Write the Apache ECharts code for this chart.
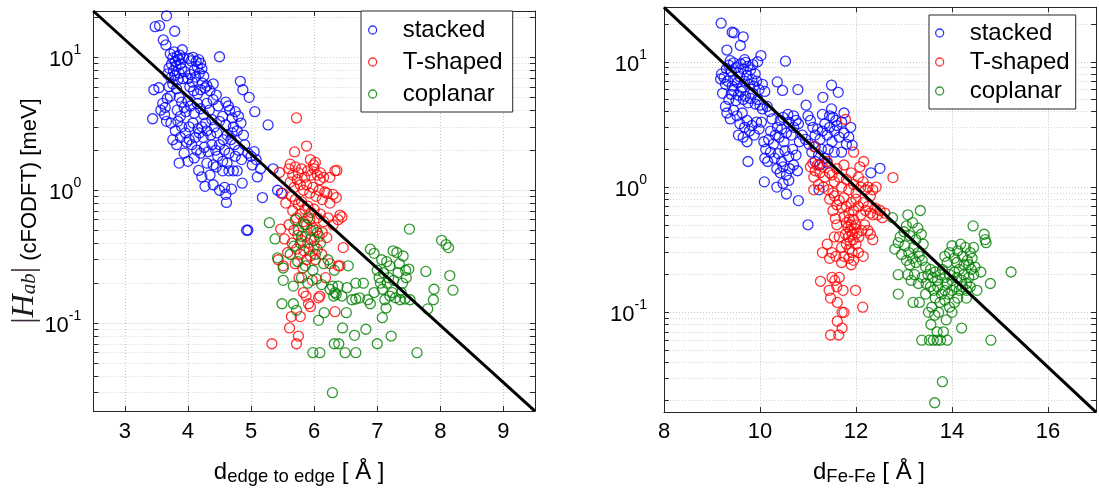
<!DOCTYPE html>
<html><head><meta charset="utf-8">
<script src="https://cdn.jsdelivr.net/npm/echarts@6/dist/echarts.min.js"></script>
<style>html,body{margin:0;padding:0;background:#fff}#c{width:1099px;height:491px}</style>
</head><body><div id="c"></div>
<script>
// ---------- data: left panel (x = edge-to-edge distance, y = |Hab| meV) ----------
const edgeStacked = [[3.66,20.5],[3.48,17.0],[3.55,17.3],[3.79,15.7],[3.61,13.5],[3.65,12.4],[3.91,11.4],[4.50,10.1],
[3.72,10.6],[3.76,9.9],[3.78,11.0],[3.80,9.3],[3.83,10.2],[3.74,8.9],[3.70,8.3],[3.77,7.9],[3.81,8.6],[3.85,9.6],[3.88,8.9],[3.68,7.5],[3.73,7.0],[3.79,7.3],[3.86,7.6],[3.90,8.2],[3.84,6.8],[3.76,6.3],[3.92,6.9],[3.95,7.8],[3.70,6.0],[3.82,5.8],[3.87,10.4],[3.93,9.9],
[3.46,5.7],[3.54,5.9],[3.44,3.45],[3.60,4.5],[3.57,4.0],[3.64,4.2],[3.67,4.9],[3.72,5.1],[3.66,3.3],[3.73,3.2],[3.63,3.7],
[4.02,9.8],[4.05,9.4],[4.08,10.0],[4.13,9.3],[4.17,9.6],[4.20,9.0],[4.15,8.5],[4.22,8.2],[4.10,8.0],[4.04,7.4],[4.00,6.9],[4.07,6.5],[4.12,7.1],[4.18,7.6],[4.23,6.4],[4.27,5.9],[4.03,6.0],[4.09,5.6],[4.15,5.3],[4.20,5.7],[4.30,6.1],[4.35,5.6],[4.40,6.3],[4.25,7.2],
[3.86,5.0],[3.90,4.6],[3.94,4.2],[3.83,4.0],[3.88,3.6],[3.97,3.9],[4.00,4.7],[4.04,4.3],[4.10,3.8],[4.15,4.5],[4.20,4.1],[4.25,3.7],[4.30,4.5],[4.34,4.0],[4.40,4.8],[4.45,5.2],[4.48,4.3],[4.38,3.4],[4.28,3.2],[4.22,3.0],[4.16,2.9],[4.08,3.2],[4.02,3.0],[3.96,2.7],[3.90,3.0],[3.84,3.3],[3.80,2.8],[3.76,2.4],[3.82,2.2],[3.88,2.5],[3.98,2.3],[4.06,2.2],[4.12,2.5],[4.18,2.7],[4.24,2.5],[4.30,2.8],[4.36,2.6],[4.42,3.0],[4.46,2.7],[4.50,3.3],[4.55,3.6],[4.60,3.1],[4.62,2.6],[4.56,2.4],[4.50,2.2],[4.44,2.0],[4.38,2.2],[4.32,1.95],[4.26,2.1],[4.20,1.9],[4.14,2.0],[4.10,1.75],[4.02,2.4],[3.94,1.9],
[4.83,6.6],[4.87,5.7],[4.97,5.0],[5.06,3.9],[5.27,3.1],[4.60,4.6],[4.66,4.0],[4.70,3.5],[4.75,3.9],[4.80,3.6],[4.72,3.0],[4.78,2.8],[4.84,3.2],[4.88,2.6],[4.68,2.4],[4.74,2.2],[4.80,2.0],[4.90,2.2],[4.95,1.9],[5.00,1.8],[5.05,1.95],[5.08,1.7],[4.85,1.7],[4.75,1.8],[4.65,1.9],[4.58,2.0],[4.62,1.6],[4.55,1.65],[4.47,1.8],[4.40,1.55],[4.64,4.3],[4.70,2.7],
[3.86,1.6],[4.00,1.65],[4.17,1.41],[4.22,1.26],[4.27,1.07],[4.40,1.1],[4.50,1.0],[4.60,0.93],[4.61,0.81],[4.69,1.02],[4.86,1.13],[5.10,1.26],[5.18,0.88],[4.93,0.5],[4.95,0.5],[5.42,1.0],[5.48,0.95],[5.35,1.45],[4.55,1.4],[4.65,1.4],[4.72,1.4],[4.78,1.4],[4.45,1.5],[4.30,1.6],[4.35,1.3],[4.58,1.05],[5.02,1.55],[5.15,1.45]];
const edgeTshaped = [[5.72,3.5],[5.88,2.15],[5.69,1.94],[5.94,1.7],[6.02,1.62],[5.62,1.57],[5.99,1.55],[5.45,1.36],[6.36,1.41],[6.33,1.40],[6.25,1.25],[6.09,1.2],[6.17,0.97],[6.30,0.93],[6.41,0.65],[6.44,0.63],[6.46,0.37],[6.41,0.27],[6.38,0.27],[5.47,0.51],[5.43,0.30],[5.51,0.27],[5.83,0.17],[6.09,0.16],[6.07,0.155],[5.94,0.133],[5.64,0.112],[5.78,0.112],[5.61,0.092],[5.75,0.08],[5.72,0.07],[5.33,0.07],[6.33,0.122],[5.91,0.14],[5.87,0.16],
[5.60,1.45],[5.66,1.3],[5.70,1.5],[5.75,1.35],[5.80,1.45],[5.85,1.25],[5.90,1.4],[5.95,1.3],[6.00,1.45],[6.05,1.3],[6.10,1.35],[6.15,1.25],[5.62,1.15],[5.68,1.05],[5.73,1.2],[5.78,1.1],[5.83,1.0],[5.88,1.1],[5.93,0.95],[5.98,1.05],[6.03,0.9],[6.08,1.0],[6.13,0.85],[6.20,0.95],[6.25,0.8],[6.35,0.88],[5.64,0.9],[5.70,0.85],[5.75,0.78],[5.80,0.82],[5.85,0.72],[5.90,0.76],[5.95,0.68],[6.00,0.72],[6.05,0.62],[6.10,0.66],[6.15,0.58],[6.22,0.62],[6.30,0.55],[6.38,0.6],[5.66,0.7],[5.72,0.62],[5.78,0.66],[5.83,0.58],[5.88,0.55],[5.93,0.6],[5.98,0.52],[6.03,0.5],[6.08,0.45],[6.13,0.48],[6.20,0.44],[5.60,0.55],[5.68,0.5],[5.74,0.46],[5.80,0.42],[5.86,0.45],[5.90,0.4],[5.95,0.43],[6.00,0.38],[6.05,0.36],[5.65,0.4],[5.72,0.36],[5.78,0.33],[5.84,0.35],[5.88,0.3],[5.94,0.32],[6.02,0.3],[6.12,0.33],[5.58,0.34],[5.70,0.28],[5.82,0.26],[5.55,0.8],[5.50,0.95],[5.53,0.43],[6.25,0.28],[6.18,0.22],[5.97,0.21],[5.76,0.22]];
const edgeCoplanar = [[5.29,0.57],[7.51,0.51],[5.38,0.43],[8.02,0.42],[8.09,0.39],[8.13,0.37],[6.89,0.36],[6.95,0.335],[7.25,0.35],[7.31,0.34],[7.41,0.32],[7.07,0.30],[7.15,0.29],[7.20,0.27],[5.42,0.31],[5.51,0.26],[6.54,0.27],[7.77,0.245],[8.15,0.228],[8.20,0.177],[7.50,0.255],[5.51,0.21],[5.67,0.19],[6.04,0.215],[6.12,0.195],[6.25,0.18],[6.29,0.19],[6.33,0.17],[6.31,0.16],[6.44,0.16],[6.52,0.185],[6.66,0.20],[6.60,0.15],[6.66,0.152],[6.72,0.155],[6.89,0.14],[7.03,0.22],[7.08,0.18],[7.12,0.15],[7.16,0.2],[7.20,0.16],[7.24,0.17],[7.29,0.155],[7.36,0.15],[7.44,0.152],[7.52,0.15],[7.90,0.18],[7.89,0.15],[7.80,0.128],[5.49,0.14],[5.67,0.14],[5.72,0.125],[6.07,0.105],[6.16,0.12],[6.45,0.092],[6.51,0.12],[6.64,0.081],[6.82,0.09],[7.00,0.07],[7.22,0.08],[6.32,0.07],[6.39,0.07],[5.98,0.06],[6.09,0.06],[6.49,0.06],[6.66,0.06],[7.63,0.06],[6.29,0.03],
[5.70,0.6],[5.75,0.5],[5.80,0.45],[5.85,0.55],[5.90,0.62],[5.95,0.5],[6.00,0.42],[6.05,0.48],[5.68,0.38],[5.78,0.4],[5.92,0.36],[6.02,0.33],[6.10,0.4],[5.62,0.33],[5.74,0.29],[5.86,0.27],[5.98,0.25],[6.15,0.28],[6.22,0.3],[6.32,0.25],[5.80,0.22],[5.90,0.2],[6.38,0.19],[6.35,0.165],
[7.00,0.25],[7.10,0.24],[7.18,0.22],[7.26,0.21],[7.33,0.24],[7.40,0.2],[7.46,0.22],[7.38,0.17],[7.05,0.2],[7.14,0.13],[7.08,0.11],[7.45,0.25],[7.35,0.28],[6.95,0.17],[6.85,0.15],[6.78,0.2]];
const edgeFit = [[2.5,22.3],[9.5,0.0218]];

// ---------- data: right panel (x = Fe-Fe distance) ----------
const feStacked = [[9.19,20.3],[9.42,17.2],[9.46,17.0],[9.65,15.8],[9.59,13.5],[9.31,12.4],[10.02,11.2],[10.53,10.1],
[9.20,8.0],[9.25,7.5],[9.18,7.3],[9.30,8.8],[9.35,9.4],[9.40,8.4],[9.45,9.8],[9.50,9.0],[9.55,8.2],[9.60,9.6],[9.65,8.7],[9.70,9.9],[9.75,9.2],[9.80,8.6],[9.85,9.5],[9.90,8.0],[9.95,10.0],[9.68,10.4],[9.38,10.2],[9.28,6.6],[9.33,7.0],[9.42,6.4],[9.48,7.2],[9.53,6.8],[9.58,7.6],[9.63,6.2],[9.68,7.0],[9.73,7.8],[9.78,6.6],[9.83,7.2],[9.88,6.4],[9.93,7.0],[9.98,6.0],[10.05,6.6],[10.10,5.8],[9.35,5.0],[9.40,5.5],[9.45,5.9],[9.50,4.9],[9.55,5.4],[9.60,5.8],[9.65,5.0],[9.70,5.3],[9.75,4.7],[9.80,5.1],[9.85,5.6],[9.90,4.6],[9.95,5.0],[10.00,4.5],[10.05,4.2],[10.15,4.4],[10.20,4.0],[9.31,3.9],[9.38,3.5],[9.45,4.1],[9.52,3.7],[9.58,3.2],[9.63,3.9],[9.68,3.0],[9.73,3.4],[9.78,2.8],[9.83,3.1],[9.88,2.6],[9.93,3.3],[9.98,2.9],[10.03,3.3],[9.55,2.6],[9.65,2.5],[9.73,2.3],[9.28,4.4],[9.22,5.6],
[10.08,2.3],[10.12,2.0],[10.18,2.4],[10.22,2.8],[10.28,2.2],[10.32,2.6],[10.36,3.0],[10.40,2.5],[10.45,2.9],[10.50,2.3],[10.55,2.7],[10.60,3.3],[10.65,2.6],[10.70,3.0],[10.75,3.4],[10.80,3.2],[10.42,3.4],[10.48,3.6],[10.58,3.8],[10.70,3.7],[10.25,3.5],[10.10,1.7],[10.16,1.6],[10.22,1.9],[10.30,1.7],[10.38,1.85],[10.45,1.6],[10.52,1.95],[10.60,1.75],[10.68,2.0],[10.75,1.8],[10.82,2.3],[10.88,2.6],[10.95,2.4],[10.35,1.4],[10.42,1.3],[10.48,1.45],[10.55,1.25],[10.62,1.4],[10.70,1.5],[10.78,1.35],
[9.75,1.6],[10.09,1.1],[10.35,1.0],[10.48,1.07],[10.60,1.13],[10.80,0.78],[11.00,0.5],[11.23,0.95],[10.55,0.88],
[10.36,6.9],[10.47,5.9],[10.79,6.0],[11.49,6.5],[11.63,5.7],[11.31,5.2],[10.96,4.5],[11.49,4.2],[11.75,3.9],[11.45,3.7],[11.89,3.0],[11.92,2.16],[12.50,1.41],[12.31,1.3],
[11.00,3.7],[11.05,3.4],[11.10,3.0],[11.15,2.6],[11.20,2.9],[11.25,2.4],[11.30,2.8],[11.35,3.2],[11.40,2.6],[11.45,3.0],[11.50,2.3],[11.55,2.8],[11.60,3.1],[11.65,2.5],[11.70,3.3],[11.75,2.7],[11.80,2.2],[11.85,2.5],[11.02,2.2],[11.08,1.9],[11.15,2.1],[11.22,1.8],[11.28,2.0],[11.35,1.7],[11.42,2.0],[11.55,1.9],[11.70,1.9],[11.25,1.5],[11.40,1.55],[11.15,1.6],[11.30,3.8],[11.52,3.6],[11.58,3.4]];
const feTshaped = [[11.78,3.46],[11.95,1.9],[11.13,2.1],[12.16,1.6],[12.77,1.19],
[11.05,1.45],[11.10,1.55],[11.15,1.35],[11.20,1.5],[11.25,1.3],[11.30,1.45],[11.35,1.2],[11.40,1.6],[11.45,1.3],[11.50,1.25],[11.55,1.1],[11.60,1.4],[11.65,1.2],[11.70,1.0],[11.75,1.5],[11.80,1.15],[11.85,0.95],[11.90,1.3],[11.95,1.05],[12.00,0.9],[12.05,1.2],[12.10,1.0],[12.15,1.1],[12.20,0.95],[12.25,1.0],[12.30,0.85],[12.35,0.95],[11.12,1.2],[11.22,1.05],[11.32,1.0],[11.42,0.95],[11.52,0.9],[11.12,0.95],[12.08,1.45],[12.42,1.0],
[11.45,0.8],[11.55,0.85],[11.60,0.72],[11.65,0.78],[11.70,0.68],[11.75,0.82],[11.80,0.7],[11.85,0.62],[11.90,0.75],[11.95,0.65],[12.00,0.8],[12.05,0.7],[12.10,0.6],[12.15,0.75],[12.20,0.65],[12.25,0.7],[12.30,0.62],[12.35,0.6],[12.40,0.68],[12.45,0.6],[12.50,0.65],[12.55,0.57],[12.60,0.62],[11.52,0.65],[11.57,0.56],
[11.75,0.58],[11.80,0.52],[11.83,0.48],[11.86,0.55],[11.88,0.45],[11.90,0.5],[11.92,0.42],[11.95,0.55],[11.97,0.47],[12.00,0.5],[12.02,0.43],[11.78,0.42],[11.84,0.4],[11.88,0.37],[11.94,0.38],[12.00,0.35],[11.80,0.35],[11.86,0.32],[11.92,0.3],[12.06,0.4],[12.12,0.45],[12.18,0.5],[12.25,0.45],[12.30,0.42],[12.35,0.38],[11.65,0.4],[11.60,0.5],[11.55,0.4],[11.70,0.33],[11.50,0.3],[11.40,0.35],[11.30,0.3],[11.45,0.27],[11.58,0.28],[11.75,0.28],[11.85,0.27],[11.95,0.26],[12.05,0.3],[12.15,0.28],[11.70,0.25],[11.90,0.24],
[11.26,0.177],[11.44,0.15],[11.56,0.18],[11.60,0.16],[11.47,0.13],[11.61,0.12],[11.73,0.15],[11.71,0.1],[11.75,0.1],[11.61,0.085],[11.71,0.075],[11.47,0.066],[11.64,0.066],[11.99,0.15],[12.14,0.11],[11.50,0.19],[11.65,0.19]];
const feCoplanar = [[12.76,0.57],[13.08,0.6],[13.34,0.65],[14.44,0.49],[14.67,0.42],[14.69,0.38],[14.71,0.36],[15.23,0.21],[14.80,0.17],
[12.81,0.32],[12.95,0.29],[13.05,0.49],[13.12,0.41],[13.29,0.47],[13.36,0.42],[12.88,0.36],[12.92,0.4],[13.00,0.44],[13.18,0.52],[13.25,0.38],[13.40,0.35],[13.02,0.34],[13.10,0.3],[13.20,0.33],[13.30,0.3],
[13.05,0.26],[13.12,0.24],[13.18,0.27],[13.25,0.25],[13.32,0.28],[13.38,0.26],[13.45,0.23],[13.50,0.2],[13.55,0.22],[13.60,0.19],[13.65,0.21],[13.70,0.18],[13.75,0.2],[13.80,0.22],[13.85,0.19],[13.90,0.17],[13.95,0.2],[14.00,0.18],[14.05,0.21],[14.10,0.19],[14.15,0.22],[14.20,0.18],[14.25,0.2],[14.30,0.17],[14.35,0.19],[14.40,0.22],[14.45,0.2],[13.08,0.2],[13.15,0.18],[13.22,0.2],[13.30,0.17],[13.38,0.19],[13.46,0.17],[13.55,0.16],[13.62,0.15],[13.70,0.16],[13.78,0.14],[13.85,0.15],[13.92,0.14],[14.00,0.15],[14.08,0.16],[14.15,0.15],[14.22,0.16],[14.30,0.15],[14.38,0.16],[13.65,0.13],[13.75,0.12],[13.85,0.125],[13.95,0.11],[14.05,0.12],[14.12,0.13],
[13.85,0.28],[13.95,0.3],[14.00,0.34],[14.05,0.27],[14.12,0.31],[14.18,0.35],[14.22,0.28],[14.28,0.33],[14.32,0.26],[14.38,0.3],[14.42,0.27],[14.45,0.33],[14.10,0.25],[14.25,0.24],[13.90,0.25],[14.35,0.24],[14.48,0.23],
[12.88,0.14],[13.19,0.12],[13.32,0.12],[13.51,0.1],[13.64,0.095],[13.88,0.087],[13.56,0.08],[13.69,0.07],[13.82,0.07],[13.37,0.06],[13.53,0.06],[13.61,0.06],[13.69,0.06],[13.76,0.06],[13.90,0.06],[14.20,0.075],[14.81,0.06],[13.80,0.028],[13.64,0.019],[12.88,0.2],[13.45,0.14],[13.58,0.11],[13.72,0.1],[14.00,0.1],[14.30,0.13],[14.52,0.15],[14.60,0.21]];
const feFit = [[8,27.2],[17,0.016]];

// ---------- axes ----------
const edgeXRange = [2.5, 9.5];
const edgeYRange = [0.0218, 22.3];
const feXRange = [8, 17];
const feYRange = [0.016, 27.2];
const edgeMinor = [0.03,0.04,0.05,0.06,0.07,0.08,0.09,0.2,0.3,0.4,0.5,0.6,0.7,0.8,0.9,2,3,4,5,6,7,8,9,20];
const feMinor = [0.02,0.03,0.04,0.05,0.06,0.07,0.08,0.09,0.2,0.3,0.4,0.5,0.6,0.7,0.8,0.9,2,3,4,5,6,7,8,9,20];
const seriesNames = ['stacked','T-shaped','coplanar'];
const seriesColors = ['#0000ff','#ff0000','#008000'];

const SANS = '"Liberation Sans", Arial, Helvetica, sans-serif';
const SERIF = '"Liberation Serif", "Times New Roman", serif';
const AX = '#262626';

function powLabel(v){
  const e = Math.log10(v), r = Math.round(e);
  if (Math.abs(e - r) > 1e-6) return '';
  return '{b|10}{s|' + r + '}';
}
const powRich = {
  b:{fontSize:22, fontFamily:SANS, color:'#000', lineHeight:28, verticalAlign:'bottom'},
  s:{fontSize:14, fontFamily:SANS, color:'#000', lineHeight:14, verticalAlign:'top'}
};

function xAxes(gi, range, splitNumber, interval, margin, name, nameGap, namePad){
  const base = {gridIndex:gi, type:'value', min:range[0], max:range[1], scale:true,
    axisLine:{show:true, onZero:false, lineStyle:{color:AX, width:1}},
    axisTick:{show:true, inside:true, length:5, lineStyle:{color:AX}}};
  if (interval) base.interval = interval; else base.splitNumber = splitNumber;
  return [
    Object.assign({}, base, {position:'bottom',
      axisLabel:{fontSize:22, fontFamily:SANS, color:'#000', margin:margin,
        formatter:v => (Math.abs(v - Math.round(v))<1e-9 && v>=range[0] && v<range[1]) ? String(v) : ''},
      splitLine:{show:true, lineStyle:{color:'#c4c4c4', type:[1,2], width:1}},
      name:name, nameLocation:'middle', nameGap:nameGap,
      nameTextStyle:{padding:namePad, rich:{
        d:{fontSize:24, fontFamily:SANS, color:'#000', lineHeight:26, verticalAlign:'top'},
        s:{fontSize:18.5, fontFamily:SANS, color:'#000', lineHeight:18, verticalAlign:'bottom', padding:[19,0,0,0]}
      }}}),
    Object.assign({}, base, {position:'top', axisLabel:{show:false}, splitLine:{show:false}})
  ];
}
function yAxes(gi, range, margin, name){
  const base = {gridIndex:gi, type:'log', logBase:10, min:range[0], max:range[1],
    axisLine:{show:true, lineStyle:{color:AX, width:1}},
    axisTick:{show:true, inside:true, length:5, lineStyle:{color:AX}}};
  const left = Object.assign({}, base, {position:'left',
    axisLabel:{formatter:powLabel, rich:powRich, margin:margin},
    splitLine:{show:true, lineStyle:{color:'#c4c4c4', type:[1,2], width:1}}});
  if (name){
    Object.assign(left, {name:name, nameLocation:'middle', nameGap:48, nameRotate:90,
      nameTextStyle:{rich:{
        bar:{fontSize:32, fontFamily:SERIF, color:'#3a2a3a', lineHeight:36, verticalAlign:'bottom'},
        H:{fontSize:32, fontFamily:SERIF, fontStyle:'italic', color:'#1a1a1a', lineHeight:36, verticalAlign:'bottom'},
        ab:{fontSize:21, fontFamily:SERIF, fontStyle:'italic', color:'#1a1a1a', lineHeight:21, verticalAlign:'bottom'},
        t:{fontSize:22, fontFamily:SANS, color:'#000', lineHeight:30, verticalAlign:'bottom'}
      }}});
  }
  return [left, Object.assign({}, base, {position:'right', axisLabel:{show:false}, splitLine:{show:false}})];
}

function minorMarks(minor, xr, tick){
  const data = [];
  minor.forEach(v => {
    data.push({yAxis:v, lineStyle:{color:'#d4d4d4', type:[1,2], width:1}});
    data.push([{coord:[xr[0], v], lineStyle:{color:AX, type:'solid', width:1}}, {coord:[xr[0]+tick, v]}]);
    data.push([{coord:[xr[1]-tick, v], lineStyle:{color:AX, type:'solid', width:1}}, {coord:[xr[1], v]}]);
  });
  return {silent:true, symbol:['none','none'], label:{show:false}, animation:false, z:1, data:data};
}

function scatter(name, color, data, xi, yi){
  return {name:name, type:'scatter', xAxisIndex:xi, yAxisIndex:yi, data:data, symbol:'circle', symbolSize:10,
    itemStyle:{color:'rgba(255,255,255,0)', borderColor:color, borderWidth:1.3}, z:3, clip:true};
}
function fitLine(data, xi, yi, minor, xr, tick){
  return {type:'line', xAxisIndex:xi, yAxisIndex:yi, data:data, symbol:'none', z:4, silent:true,
    lineStyle:{color:'#000', width:3}, markLine:minorMarks(minor, xr, tick)};
}
function legendItems(){
  return seriesNames.map((n,i)=>({name:n, icon:'circle',
    itemStyle:{color:'rgba(255,255,255,0)', borderColor:seriesColors[i], borderWidth:1.3}}));
}

const xs0 = xAxes(0, edgeXRange, 7, null, 10, '{d|d}{s|edge to edge}{d| [ Å ]}', 35, [0,30,0,0]);
const xs1 = xAxes(1, feXRange, null, 2, 9, '{d|d}{s|Fe-Fe}{d| [ Å ]}', 34, [0,22,0,0]);
const ys0 = yAxes(0, edgeYRange, 12, '{bar||}{H|H}{ab|ab}{bar||}{t| (cFODFT) [meV]}');
const ys1 = yAxes(1, feYRange, 17, null);

const option = {
  animation:false,
  backgroundColor:'#fff',
  grid:[{left:93.3, top:11, width:441.7, height:407},
        {left:664, top:7.3, width:442.4, height:409.4}],
  xAxis:[xs0[0], xs0[1], xs1[0], xs1[1]],
  yAxis:[ys0[0], ys0[1], ys1[0], ys1[1]],
  legend:[
    {left:361, top:11, orient:'vertical', data:legendItems(), itemWidth:50, itemHeight:8, itemGap:8,
     padding:[7,10,6,7], backgroundColor:'#fff', borderColor:AX, borderWidth:1, selectedMode:false,
     textStyle:{fontSize:24, fontFamily:SANS, color:'#000', lineHeight:24}},
    {left:929, top:15, orient:'vertical', data:legendItems(), itemWidth:50, itemHeight:8, itemGap:5,
     padding:[6,6,6,6], backgroundColor:'#fff', borderColor:AX, borderWidth:1, selectedMode:false,
     textStyle:{fontSize:24, fontFamily:SANS, color:'#000', lineHeight:24}}
  ],
  series:[
    scatter(seriesNames[0], seriesColors[0], edgeStacked, 0, 0),
    scatter(seriesNames[1], seriesColors[1], edgeTshaped, 0, 0),
    scatter(seriesNames[2], seriesColors[2], edgeCoplanar, 0, 0),
    fitLine(edgeFit, 0, 0, edgeMinor, edgeXRange, 0.08),
    scatter(seriesNames[0], seriesColors[0], feStacked, 2, 2),
    scatter(seriesNames[1], seriesColors[1], feTshaped, 2, 2),
    scatter(seriesNames[2], seriesColors[2], feCoplanar, 2, 2),
    fitLine(feFit, 2, 2, feMinor, feXRange, 0.1)
  ]
};
const chart = echarts.init(document.getElementById('c'), null, {renderer:'canvas'});
chart.setOption(option);
</script></body></html>
